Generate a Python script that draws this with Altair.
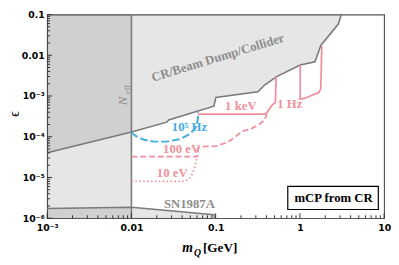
import altair as alt
import pandas as pd

W, H = 344, 208

# ---- axis ticks / labels ----
x_major = [1e-3, 1e-2, 1e-1, 1, 10]
x_labels = ['10⁻³', '0.01', '0.1', '1', '10']
y_major = [1e-6, 1e-5, 1e-4, 1e-3, 1e-2, 1e-1]
y_labels = ['10⁻⁶', '10⁻⁵', '10⁻⁴', '10⁻³', '0.01', '0.1']
x_minor = [k * 10.0 ** d for d in range(-3, 1) for k in range(2, 10)]
y_minor = [k * 10.0 ** d for d in range(-6, -1) for k in range(2, 10)]

# ---- CR / beam dump / collider lower boundary ----
cr_m = [1e-3, 0.01, 0.0263, 0.0277, 0.0953, 0.1005, 0.318, 0.384, 0.530, 1.008, 1.51, 1.77, 2.86, 3.10]
cr_e = [4.03e-5, 1.30e-4, 2.28e-4, 2.58e-4, 5.64e-4, 9.16e-4, 1.27e-3, 1.88e-3, 2.99e-3, 5.78e-3, 6.92e-3, 1.74e-2, 5.82e-2, 0.1]

# ---- N_eff region ----
neff_m = [1e-3, 0.01]
eps_range = [1e-6, 0.1]

# ---- SN1987A boundary ----
sn_m = [1e-3, 0.01, 0.0953, 0.098]
sn_e = [1.74e-6, 1.87e-6, 1.22e-6, 1e-6]

# ---- mCP from CR curves ----
kev_m = [0.0615, 0.394, 0.428, 0.463, 0.512, 0.522]
kev_e = [3.61e-4, 3.61e-4, 4.61e-4, 5.87e-4, 6.92e-4, 2.95e-3]

hz1_m = [1.008, 1.008, 1.153, 1.39, 1.68, 1.77, 1.82]
hz1_e = [5.78e-3, 8.35e-4, 8.83e-4, 1.04e-3, 1.22e-3, 1.52e-3, 1.68e-2]

ev100_m = [0.01, 0.0604, 0.0621, 0.069, 0.1005, 0.1387, 0.1718, 0.2073, 0.264, 0.327, 0.374, 0.406]
ev100_e = [3.24e-5, 3.24e-5, 5.27e-5, 5.72e-5, 5.88e-5, 7.31e-5, 1.01e-4, 1.36e-4, 1.56e-4, 1.99e-4, 2.47e-4, 3.52e-4]

ev10_m = [0.01, 0.0427, 0.0487, 0.0528, 0.0565, 0.0596, 0.0621]
ev10_e = [8.05e-6, 8.05e-6, 9.31e-6, 1.22e-5, 1.79e-5, 2.91e-5, 4.73e-5]

hz5_m = [0.01, 0.01117, 0.01409, 0.01841, 0.0263, 0.0376, 0.0492, 0.0577, 0.0615, 0.0615]
hz5_e = [1.30e-4, 1.05e-4, 8.45e-5, 7.59e-5, 7.59e-5, 8.73e-5, 1.15e-4, 1.64e-4, 2.58e-4, 4.25e-4]

# ---- legend box extent (data coords) ----
legend_m = [0.718, 8.53]
legend_e = [1.64e-6, 6.04e-6]

PINK = '#f0909b'
BLUE = '#45ace0'
GRAY_T = '#8c8c8c'
GRAY_L = '#7a7a7a'
SERIF = 'Liberation Serif'
SANS = 'DejaVu Sans'

xscale = alt.Scale(type='log', domain=[1e-3, 10], nice=False)
yscale = alt.Scale(type='log', domain=[1e-6, 0.1], nice=False)


def label_expr(vals, labels):
    expr = f"'{labels[-1]}'"
    for v, l in reversed(list(zip(vals[:-1], labels[:-1]))):
        expr = f"datum.value < {v * 3.1623:.4g} ? '{l}' : " + expr
    return expr


main_x_axis = alt.Axis(values=x_major, labelExpr=label_expr(x_major, x_labels), ticks=False,
                       domain=False, grid=False, labelFont=SANS, labelFontWeight='bold',
                       labelFontSize=9.5, labelColor='black', labelPadding=5, title='',
                       orient='bottom', labelFlush=False)
main_y_axis = alt.Axis(values=y_major, labelExpr=label_expr(y_major, y_labels), ticks=False,
                       domain=False, grid=False, labelFont=SANS, labelFontWeight='bold',
                       labelFontSize=9.5, labelColor='black', labelPadding=3, title='ϵ',
                       titleFont=SERIF, titleFontSize=14, titleFontWeight='normal',
                       titleColor='black', titleX=-33, titleY=101, titleAngle=270,
                       titleAlign='center', titleBaseline='middle', orient='left', labelFlush=False)


def X(f):
    return alt.X(f, type='quantitative', scale=xscale, axis=main_x_axis)


def Y(f):
    return alt.Y(f, type='quantitative', scale=yscale, axis=main_y_axis)


def curve_df(ms, es):
    return pd.DataFrame({'m': ms, 'e': es, 'i': list(range(len(ms)))})


# Neff region
neff_df = pd.DataFrame({'m1': [neff_m[0]], 'm2': [neff_m[1]], 'e1': [eps_range[0]], 'e2': [eps_range[1]]})
neff_rect = alt.Chart(neff_df).mark_rect(color='#333', opacity=0.12).encode(
    x=X('m1'), x2='m2', y=Y('e1'), y2='e2')

# CR region
cr_df = curve_df(cr_m, cr_e)
cr_df['top'] = eps_range[1]
cr_area = alt.Chart(cr_df).mark_area(color='#333', opacity=0.12).encode(
    x=X('m'), y=Y('e'), y2='top')
cr_line = alt.Chart(cr_df).mark_line(color=GRAY_L, strokeWidth=1.6).encode(
    x=X('m'), y=Y('e'), order='i')

# SN region
sn_df = curve_df(sn_m, sn_e)
sn_df['base'] = eps_range[0]
sn_area = alt.Chart(sn_df).mark_area(color='#333', opacity=0.12).encode(
    x=X('m'), y=Y('e'), y2='base')
sn_line = alt.Chart(sn_df).mark_line(color=GRAY_L, strokeWidth=1.6).encode(
    x=X('m'), y=Y('e'), order='i')

# Neff boundary line
neff_line = alt.Chart(neff_df).mark_rule(color=GRAY_L, strokeWidth=1.6).encode(
    x=X('m2'), y=Y('e1'), y2='e2')


# inward ticks drawn through the scales
def xticks(vals, size):
    return alt.Chart(pd.DataFrame({'v': vals})).mark_rule(color='#333', strokeWidth=1).encode(
        x=X('v'), y=alt.value(H), y2=alt.value(H - size))


def yticks(vals, size):
    return alt.Chart(pd.DataFrame({'v': vals})).mark_rule(color='#333', strokeWidth=1).encode(
        y=Y('v'), x=alt.value(0), x2=alt.value(size))


ticks = [xticks(x_major, 5), xticks(x_minor, 3), yticks(y_major, 5), yticks(y_minor, 3)]


def curve(ms, es, color, dash=None, width=1.8):
    kw = dict(color=color, strokeWidth=width)
    if dash:
        kw['strokeDash'] = dash
    return alt.Chart(curve_df(ms, es)).mark_line(**kw).encode(x=X('m'), y=Y('e'), order='i')


kev_c = curve(kev_m, kev_e, PINK)
hz1_c = curve(hz1_m, hz1_e, PINK)
ev100_c = curve(ev100_m, ev100_e, PINK, [6, 3])
ev10_c = curve(ev10_m, ev10_e, PINK, [1.5, 2.5])
hz5_c = curve(hz5_m, hz5_e, BLUE, [8, 3], 2.0)


def label(text, m, e, color, size=13, angle=0, style='normal', weight='bold', align='center'):
    df = pd.DataFrame({'m': [m], 'e': [e], 't': [text]})
    return alt.Chart(df).mark_text(font=SERIF, fontSize=size, fontWeight=weight, fontStyle=style,
                                   color=color, angle=angle, align=align, baseline='middle').encode(
        x=X('m'), y=Y('e'), text='t')


labels = [
    label('CR/Beam Dump/Collider', 0.106, 8.7e-3, GRAY_T, 13, 343),
    label('N', 0.00787, 7.5e-4, GRAY_T, 13, 270, 'italic', 'normal'),
    label('eff', 0.00877, 1.44e-3, GRAY_T, 9, 270, 'normal', 'normal'),
    label('SN1987A', 0.0488, 2.22e-6, GRAY_T, 13),
    label('1 keV', 0.199, 5.73e-4, PINK, 13),
    label('1 Hz', 0.760, 6.38e-4, PINK, 13),
    label('10⁵ Hz', 0.0488, 1.71e-4, BLUE, 13),
    label('100 eV', 0.0394, 5.08e-5, PINK, 13),
    label('10 eV', 0.0305, 1.31e-5, PINK, 13),
]

leg_df = pd.DataFrame({'m1': [legend_m[0]], 'm2': [legend_m[1]], 'e1': [legend_e[0]], 'e2': [legend_e[1]]})
leg_box = alt.Chart(leg_df).mark_rect(fill='white', stroke='black', strokeWidth=1.2).encode(
    x=X('m1'), x2='m2', y=Y('e1'), y2='e2')
leg_text = label('mCP from CR', 2.51, 3.15e-6, 'black', 13)

# x-axis title: m_Q[GeV]
one = pd.DataFrame({'k': [0]})
t_m = alt.Chart(one).mark_text(text='m', font=SERIF, fontSize=14, fontWeight='bold', fontStyle='italic',
                               color='black', align='left', baseline='middle').encode(
    x=alt.value(138), y=alt.value(238))
t_q = alt.Chart(one).mark_text(text='Q', font=SERIF, fontSize=10, fontWeight='bold', fontStyle='italic',
                               color='black', align='left', baseline='middle').encode(
    x=alt.value(150), y=alt.value(244))
t_gev = alt.Chart(one).mark_text(text='[GeV]', font=SERIF, fontSize=13.5, fontWeight='bold',
                                 color='black', align='left', baseline='middle').encode(
    x=alt.value(159), y=alt.value(238))

chart = alt.layer(
    neff_rect, cr_area, sn_area, cr_line, neff_line, sn_line,
    kev_c, hz1_c, ev100_c, ev10_c, hz5_c,
    *labels, leg_box, leg_text, *ticks, t_m, t_q, t_gev
).properties(
    width=W, height=H,
    autosize=alt.AutoSizeParams(type='none'),
    padding={'left': 40, 'top': 4, 'right': 7, 'bottom': 40},
    background='white'
).configure_view(stroke='#555', strokeWidth=1.2)

chart.save("out.html", embed_options={"renderer": "svg", "actions": False})
